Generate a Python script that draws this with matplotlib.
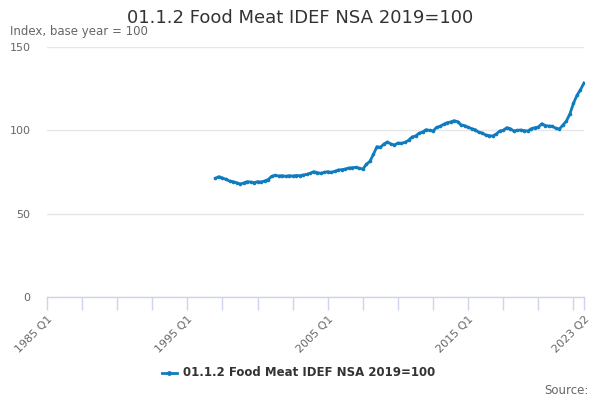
import matplotlib
matplotlib.use("Agg")
import matplotlib.pyplot as plt

TITLE = "01.1.2 Food Meat IDEF NSA 2019=100"
LINE_COLOR = "#0f7cc0"

# quarterly categories 1985 Q1 .. 2023 Q2
quarters = [f"{y} Q{q}" for y in range(1985, 2024) for q in range(1, 5)]
quarters = quarters[:quarters.index("2023 Q2") + 1]

# series starts at 1997 Q1
start_label = "1997 Q1"
values = [
    71.2, 72.2, 71.4, 70.6,   # 1997
    69.6, 69.2, 68.6, 67.8,   # 1998
    68.4, 69.2, 69.0, 68.6,   # 1999
    69.2, 69.0, 69.6, 70.4,   # 2000
    72.4, 73.0, 72.6, 72.8,   # 2001
    72.4, 72.8, 72.6, 72.9,   # 2002
    72.8, 73.2, 73.6, 74.2,   # 2003
    75.2, 74.6, 74.2, 74.8,   # 2004
    75.2, 74.8, 75.4, 76.2,   # 2005
    76.4, 76.8, 77.4, 77.6,   # 2006
    77.8, 77.2, 76.8, 79.6,   # 2007
    81.4, 85.6, 90.2, 89.8,   # 2008
    91.8, 93.0, 91.8, 91.2,   # 2009
    92.4, 92.2, 92.8, 94.0,   # 2010
    96.0, 96.6, 98.2, 99.0,   # 2011
    100.4, 100.0, 99.6, 101.8,  # 2012
    102.4, 103.6, 104.6, 105.0,  # 2013
    105.8, 105.2, 103.2, 102.8,  # 2014
    101.8, 101.0, 100.4, 98.8,   # 2015
    98.4, 97.2, 96.8, 96.6,      # 2016
    97.8, 99.6, 100.0, 101.6,    # 2017
    101.0, 99.6, 100.0, 100.2,   # 2018
    99.8, 99.6, 101.0, 101.6,    # 2019
    102.0, 104.0, 102.8, 102.6,  # 2020
    102.4, 101.2, 100.8, 103.2,  # 2021
    105.6, 110.0, 116.2, 121.0,  # 2022
    124.4, 128.4,                # 2023
]

y_ticks = [0, 50, 100, 150]
label_quarters = ["1985 Q1", "1995 Q1", "2005 Q1", "2015 Q1", "2023 Q2"]

start = quarters.index(start_label)
xs = list(range(start, start + len(values)))

fig = plt.figure(figsize=(6, 4), dpi=100)
ax = fig.add_axes([47 / 600, 103 / 400, 537 / 600, 250 / 400])

ax.plot(xs, values, color=LINE_COLOR, linewidth=2, marker="o", markersize=2.6,
        markeredgewidth=0, zorder=3)

ax.set_xlim(0, len(quarters) - 1)
ax.set_ylim(0, 150)

ax.set_yticks(y_ticks)
ax.set_yticklabels([str(v) for v in y_ticks], fontsize=8, color="#666666")
ax.tick_params(axis="y", length=0, pad=12)
ax.grid(axis="y", color="#e6e6e6", linewidth=1)
ax.set_axisbelow(True)

# minor ticks every 10 quarters plus the last one, labels every 40
tick_pos = list(range(0, len(quarters), 10)) + [len(quarters) - 1]
ax.set_xticks(tick_pos)
ax.set_xticklabels([quarters[i] if quarters[i] in label_quarters else "" for i in tick_pos],
                   rotation=45, ha="right", rotation_mode="anchor",
                   fontsize=8, color="#666666")
ax.tick_params(axis="x", length=9, width=1, color="#ccd6eb", pad=3)

for side in ["top", "right", "left"]:
    ax.spines[side].set_visible(False)
ax.spines["bottom"].set_color("#ccd6eb")
ax.spines["bottom"].set_linewidth(1)

fig.text(0.5, 1 - 18 / 400, TITLE, ha="center", va="center", fontsize=13, color="#333333")
fig.text(10 / 600, 1 - 32 / 400, "Index, base year = 100", ha="left", va="center",
         fontsize=8.5, color="#666666")

# legend
fig.lines.append(plt.Line2D([162 / 600, 177 / 600], [1 - 373 / 400] * 2, transform=fig.transFigure,
                            color=LINE_COLOR, linewidth=2))
fig.lines.append(plt.Line2D([169.5 / 600], [1 - 373 / 400], transform=fig.transFigure,
                            color=LINE_COLOR, marker="o", markersize=3.5, markeredgewidth=0))
fig.text(183 / 600, 1 - 373 / 400, TITLE, ha="left", va="center", fontsize=8.5,
         fontweight="bold", color="#333333")

fig.text(589 / 600, 1 - 390 / 400, "Source:", ha="right", va="center", fontsize=8.5, color="#666666")

fig.savefig("out.png", dpi=100)
